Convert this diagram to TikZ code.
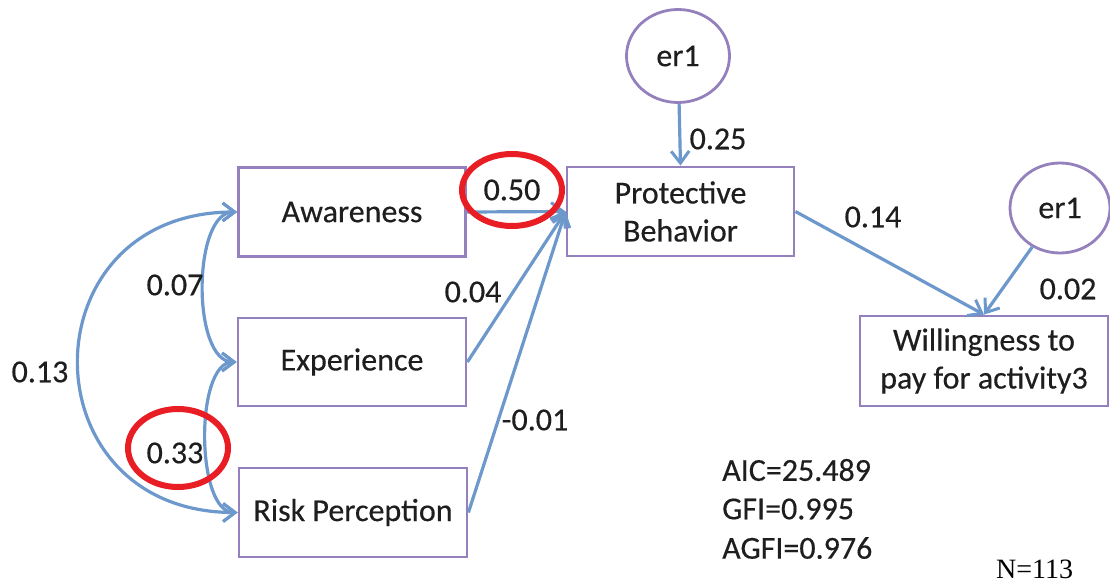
\documentclass[tikz,border=0pt]{standalone}
\usepackage{fontspec}
\setmainfont{Carlito}
\newfontfamily\heavy[BoldFont=Carlito, BoldFeatures={FakeBold=0.35}]{Carlito}
\newfontfamily\serifN{Liberation Serif}
\usetikzlibrary{arrows.meta,shapes.geometric}
\definecolor{linec}{RGB}{108,152,204}
\definecolor{boxc}{RGB}{148,128,188}
\definecolor{txtc}{RGB}{30,30,30}
\definecolor{redc}{RGB}{232,30,36}
\begin{document}
\begin{tikzpicture}[x=1pt,y=-1pt,
  every node/.style={text=txtc, font=\heavy\bfseries\fontsize{32}{38}\selectfont},
  box/.style={draw=boxc, line width=2.8pt, inner sep=0pt, align=center},
  errc/.style={draw=boxc, line width=2.8pt, ellipse, inner sep=0pt, minimum width=103pt, minimum height=93pt},
  arr/.style={draw=linec, line width=3.2pt, -{Straight Barb[length=12pt,width=18pt,line width=3pt]}},
  darr/.style={draw=linec, line width=3.2pt, {Straight Barb[length=12pt,width=18pt,line width=3pt]}-{Straight Barb[length=12pt,width=18pt,line width=3pt]}},
  lab/.style={inner sep=0pt},
  redring/.style={draw=redc, line width=6pt}
]
\useasboundingbox (0,0) rectangle (1110,583);
% boxes
\node[box, minimum width=227pt, minimum height=89pt] (aw) at (352,212) {Awareness};
\node[box, minimum width=228pt, minimum height=88pt] (ex) at (352,362) {Experience};
\node[box, minimum width=228pt, minimum height=89pt] (rp) at (353,512.5) {Risk Perception};
\node[box, minimum width=227pt, minimum height=89pt] (pb) at (680.5,211.5) {Protective\\Behavior};
\node[box, minimum width=248pt, minimum height=90pt] (wi) at (984,361) {Willingness to\\pay for activity3};
\node[errc] (e1) at (678,56) {er1};
\node[errc, minimum width=100pt, minimum height=90pt] (e2) at (1060,208) {er1};
% direct paths
\draw[arr] (aw.east) -- (pb.west);
\draw[arr] (ex.east) -- (pb.west);
\draw[arr] (rp.east) -- (pb.west);
\draw[arr] (e1) -- (pb.north);
\draw[arr] (pb.east) -- (wi.north);
\draw[arr] (e2) -- (wi.north);
% covariances
\draw[darr] (aw.west) .. controls +(-45,0) and +(-45,0) .. (ex.west);
\draw[darr] (ex.west) .. controls +(-42,0) and +(-42,0) .. (rp.west);
\draw[darr] (aw.west) .. controls +(-212,0) and +(-212,0) .. (rp.west);
% labels
\node[lab] (l50) at (512,190) {0.50};
\node[lab] (l25) at (718,139) {0.25};
\node[lab] (l14) at (873,217) {0.14};
\node[lab] (l02) at (1068,289) {0.02};
\node[lab] (l04) at (473,292) {0.04};
\node[lab] (l01) at (535,420) {-0.01};
\node[lab] (l07) at (175,285) {0.07};
\node[lab] (l13) at (40,372) {0.13};
\node[lab] (l33) at (175,453) {0.33};
% red highlight rings
\draw[redring] (l50) ellipse [x radius=50pt, y radius=36pt];
\node[draw=redc, line width=6pt, ellipse, minimum width=100pt, minimum height=78pt] (r33) at (178,448) {};
% fit indices
\node[lab, anchor=west] (aic) at (722,470) {AIC=25.489};
\node[lab, anchor=west] (gfi) at (722,509) {GFI=0.995};
\node[lab, anchor=west] (agfi) at (722,548) {AGFI=0.976};
\node[lab, anchor=west, font=\serifN\fontsize{28}{34}\selectfont, text=black] (nn) at (996,569) {N=113};
\end{tikzpicture}
\end{document}
